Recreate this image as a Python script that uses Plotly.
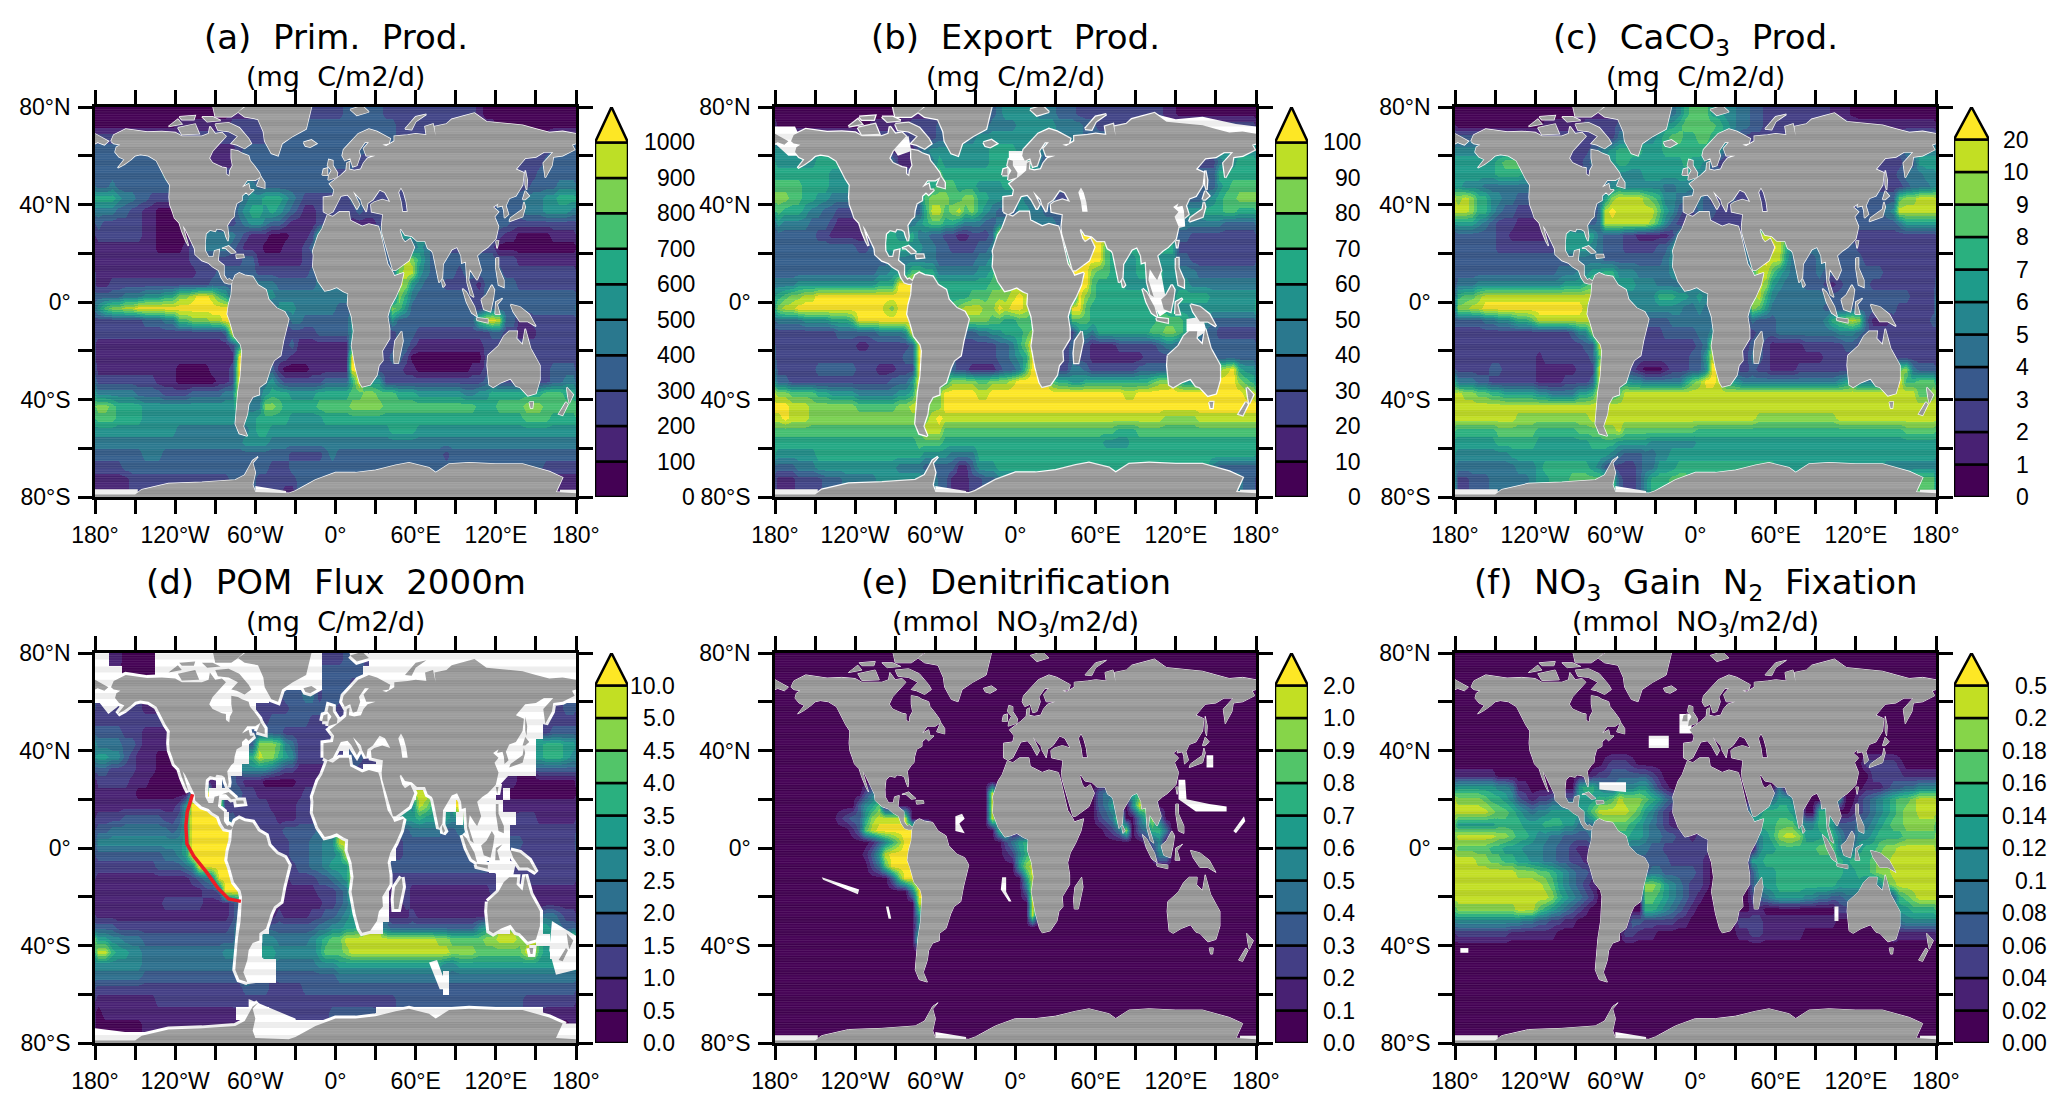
import numpy as np
import plotly.graph_objects as go

# grid: 5 degree cells, rows run north to south, 6 groups of 60 degrees of longitude
# each char is the colour level of the cell, "." = no data, short rows repeat the last char
LONS = [-182.5 + 5 * i for i in range(74)]
LATS = [82.5 - 5 * i for i in range(34)]

PRIM_PROD = [
    "000000000000 000000001111 111112222222 233333322222 222222222100 000000000000",
    "000000000000 111111112222 222222333333 333333333222 222222221111 000000000000",
    "222222222222 222222222222 222333333333 333333333222 222222222222 111111112222",
    "333333333333 222221111233 333333333333 333333222222 222222222222 222222223333",
    "333333333333 333321111233 333333333333 333211111222 222222222222 222222233333",
    "333333333344 443333222333 333333333332 222222222222 222222222222 222222333333",
    "334333333333 444222222344 333333333333 333333222222 222222222222 222223333444",
    "666544332222 234422222345 566654322222 223322222222 222222222222 333344455666",
    "444332211000 113333222456 656543211222 222322222222 222222222222 333344455554",
    "322222211000 001344222345 543321111222 221111222222 222222222222 332222222222",
    "222222211000 001144444321 1100011126aa 444444444555 554222222222 211000001111",
    "111111111000 012244443211 1000111239aa aaa222233333 543222222222 000000000000",
    "111111111111 112222222233 111111122399 222222233798 643333333333 222111111111",
    "111111111111 111222333333 222222223455 222222223899 543333233333 322222222222",
    "112222222222 222223333355 444333333444 442222222985 433322222133 333222222222",
    "333344455566 889aa9763222 555444444444 444222222864 333333332233 333333333333",
    "578899aaaaaa aaaaaaaaa222 222555444444 333222228753 333333332233 333333333333",
    "222222233344 7788899aa222 222224433333 335222225333 33333333379a 933112222222",
    "222222222222 22222223aaa2 222222222333 335222222333 222222222223 322111222222",
    "111111111111 1111111125aa 222223111111 116222222332 111111111122 222222222222",
    "111111111111 111111111aa2 222221111111 11aa22223320 000000000022 222222222222",
    "111111111111 000001112aa2 333100001111 11aa52222211 000000001122 222222223333",
    "222222222111 000000112aa3 445322222233 336a55522222 222222222233 222222223344",
    "444444333322 223333344aa3 456665555666 667788777666 555555544556 666666677766",
    "887666655555 555555555844 488766666777 778888877777 777777777666 777788877777",
    "777666655555 555555555455 666665555566 666666666666 666666666666 666677776666",
    "555555555555 444444444445 665555555555 555555556666 555555555555 555555555555",
    "444444444444 444444444455 554444444444 444444444444 444444444444 444444444444",
    "333333344433 333333333333 333332222234 333333333333 333323333333 333333333333",
    "222233333333 333333333333 332223333333 333333333333 333333333333 333333322222",
    "111112222222 222222223333 222222333333 333333333333 333333333333 333222211111",
    "111112222222 222222223333 222211333333 333333333333 333333333333 333222211111",
]

EXPORT_PROD = [
    "000000000000 000000001111 222222223455 555444333222 222222222211 000000000000",
    "000000000000 001111122222 333333334444 555555444433 222222222222 222222222222",
    "222222222222 222222222222 334444555555 555555444433 333333333333 444444444555",
    "555555555555 444221111345 555555556666 555533333333 333333333333 333333555555",
    "555555666666 666644111344 655555556666 665422222222 222222222222 222222455666",
    "666666665555 555544222455 766666666666 666533333333 333333333333 333333666666",
    "777766665555 554333333566 777666555566 654333333333 333333333333 333333567777",
    "887766554444 555443333478 887788665544 544333222222 222222222222 333345677888",
    "766654433222 222355333369 978978654332 554433322222 222222222222 555566677666",
    "544443332111 111566444567 766544433444 544444333222 222222222222 444444433333",
    "333333221111 112666556443 322112223a99 222222266aaa aa6555555555 332222222222",
    "333333333333 223366665544 3322223349aa aa2222266aaa a76666666666 222222222222",
    "333333333333 333334444444 3333334457aa aa2222266aaa a76655665555 332222222222",
    "333333333333 333445557766 4444445569aa a222222aaaa8 776655666655 444333333333",
    "444555555555 555666aaaa77 666666667788 886222222aa7 666655556655 554444444444",
    "678899aaaaaa aaaaaaaaa655 776667778889 a96222222a87 666666666655 666665555555",
    "899aaaaaaaaa aaaa98aaaa55 667899988a9a a9822222aa76 666666666665 555555555555",
    "444455556667 aaaaaaaaaa55 556888887766 776222227776 666666666777 765553333333",
    "222222222333 33344445aa55 222333445566 678222222554 666666667788 765433222222",
    "222222222222 112222223aa5 443222222334 68aa22223321 111222222344 333333333333",
    "222222222222 222222233aa5 443222222334 56aa22223221 111111122223 322333333333",
    "222222333333 222111222aa5 553221111233 47aa22224432 222222333333 33333389a655",
    "332222222222 222223335aa4 668888778889 aaaaa7665566 666666667889 655555aaa876",
    "887777665555 444444556aa7 8aaaaa99aaaa aaaaaaaaaaaa aaaa99aaaaaa aaaaaaaaaa99",
    "aa9998888888 777777889988 8aaaaaaaaaaa aaaaaaaaaaaa aaaaaaaaaaaa aaaaaaaaaaaa",
    "9a9998888888 888888888889 a99999999999 999999999999 999999999988 888999999999",
    "777777777777 777777777799 977777777777 777777777777 777666777777 777777777777",
    "666666666666 666666666777 766666666666 666666666666 655556666666 666666666666",
    "555555666666 666666666655 554444666666 666666666666 666666666666 666666666666",
    "333444555555 555555444433 333113555666 666666666666 666666666666 666664333333",
    "111222233344 444555555555 331112233444 555555555555 555555555555 333333444433",
    "111222233344 444555555555 331112233444 555555555555 555555555555 333333444433",
]

CACO3_PROD = [
    "000000000000 000000111111 222222334578 886655443322 222222221110 000000000000",
    "000000000000 011111122222 333333566788 888765443322 222222222222 111111111111",
    "333333222222 222222222222 444455678877 887765322222 222222222222 222222233333",
    "555555555566 555222223456 777766677777 776632222222 222222222222 222222344555",
    "666666788888 774222234566 776666666676 653211111111 222222222222 222222233666",
    "666666777766 766543222344 555566666665 543322222222 222222222222 222222344455",
    "655544444444 544333222345 655555544555 542222222222 222222222222 222222234445",
    "9a9775544333 444443222469 aaaa98755443 432223222222 222222222222 333333899aaa",
    "aa9775433222 2224442224ab aaaaaa865322 433222222222 222222222222 333345aaaaaa",
    "666543222111 1114443334aa aaaaa9753211 432222222222 222222222222 333333466666",
    "333333221111 112466666433 32211111259a 222222244aaa a95322222222 222222222222",
    "333333222222 222366665433 322222335abb 222222244aab a75444433333 222222222222",
    "333333333333 333333444433 3333333458bb 222222244aba a64433443333 322222222222",
    "333333333333 333444556677 555444445677 222222227aa8 654433433333 333322222222",
    "444555555555 555566678887 666555444444 443222222a96 544433321233 332222222222",
    "7889aaaaaaaa aaaaaaaaa755 555555777665 654222229a75 444444443333 333333332222",
    "99aabbbbbbbb bbbbbbba7444 444555555544 543222229864 444444433333 333333222222",
    "333344556778 aaaaaaaaa544 443333334444 444222224333 44444445789a 931112222223",
    "222222222222 222223559a33 332222233333 445222222333 444444444555 432222222222",
    "222222222222 222222233aa3 322222222222 34aa22223321 111122222233 222222222222",
    "222222222222 1222222238a3 322222222223 36aa22224321 111111122222 222222222222",
    "222223322222 111111222aa3 322100012223 35ba22223221 111222222222 222224894333",
    "444332222222 111122223aa4 665544444468 9bba66544444 444444444567 44444ab77888",
    "a99887766666 554444667aa7 8aaaaaaaaaaa aaaaaaaaaaaa aaaaaaaaaaaa aaaaaaaaa889",
    "aaaaaaaaaaaa aaaaaaaaaaaa aaaaaaaaaaaa aaaaaaaaaaaa aaaaaaaaaaaa aaaaaaaaaaaa",
    "aaaaaaaaa999 99999999aaaa aaaaaaaaaaaa aaaaaaaaa999 999999999aaa aaaaaaaaaaaa",
    "777777888888 777777888899 a88888888888 777777777777 777777777777 777777788888",
    "666666777777 666666667777 666665555555 666666666666 666666666666 666666666666",
    "555555556666 666666666665 433344556666 666666666666 666666666666 666666666666",
    "444444444555 677777776532 222344666777 777777777777 666666666666 666655555555",
    "223334444445 667778888888 322357778887 777777777777 777777777777 444444778888",
    "223334444445 667778888888 322357778887 777777777777 777777777777 444444778888",
]

POM_FLUX = [
    "..1100000... ............ ..........22 23332....... ............ ............",
    "....00000... ............ ..........33 3333........ ............ ............",
    "............ ............ ..........33 332......... ............ ............",
    "............ ............ ..2233344233 333......... ............ ............",
    "222222211111 1........... 222223333333 22.......... ............ ........2233",
    "222222222222 211........2 223333332222 2........... ............ .......22222",
    "333322211111 111........3 333322222222 ............ ............ .......23333",
    "444433211111 111000.....3 999854222222 ..3322...... ............ ......677766",
    "665532111000 000000.....7 a99765222222 2.3322...... ............ ......677765",
    "332222111000 000000....55 554322111112 2.32........ ............ ......333333",
    "222221110000 000011.33211 100000111222 ............ ............ 111000000000",
    "111111000000 005bb...3322 111111122334 4........... aa9....bbb.. 1.0000000000",
    "111111111111 25bbbbb22222 221111222334 4.........65 a975..bbbb.. .11111111111",
    "222233333322 36bbbbb.3222 222111222344 4........666 766665.8bb.. ...222111111",
    "334444444443 46bbbbbb.222 222233333444 aa.......334 444433444... ..2222222222",
    "555555555555 56bbbbbbbb.. ..2223334455 aaa......233 333333344... ..3322222222",
    "333333333344 56bbbbbbbb.. ..2223334455 6aa......233 333333333... ..2222222222",
    "222222222333 345bbbbbb... ..2222334456 66a.....3333 33333333333. ..2222222222",
    "111111111111 112345bbbb.. ..1112222334 56a.....2222 222222222222 ..2222222222",
    "111111111111 1111223bbb.. ...111111222 34a.....1121 111111111112 ..1111111111",
    "111111111122 22221111249. ..1111111122 346.....1121 111111111111 ..1111111111",
    "111111111111 1111111124a. .11211112233 456.....1112 111111111111 ...111.44322",
    "333222222222 2222222235a. ..3333333445 5667...43333 333333333567 ..9.4..65433",
    "665544433333 3333333335a. .55444445678 8aaaaaaaaaaa aaa998888899 aaa99a..6.5a",
    "aa7665544444 44444445558. .66555555688 89aaaaaaaaaa aaaaa9999888 8888aa76.555",
    "555555544444 44444444455. ...444444555 666666666666 666655666666 666666666555",
    "444444433333 33333333336. ...333333333 444444444444 4444.4444444 444444444444",
    "222222222222 222222222233 332222233333 333333333333 3333.3333333 333333333333",
    "111111111222 222222222222 222222222222 222222222333 333333333333 333322222222",
    "011111111111 111111111... ..2222222223 333333...... ............ .......11111",
    "000000011111 1111111111.. ...22....... ............ ............ .........001",
    "............ ............ ............ ............ ............ ............",
]

DENITRIF = [
    "0", "0", "0", "0", "0", "0", "0", "0", "0", "0", "0",
    "000000000000 024500000000 00000000a000 000000000000 344006700000 0",
    "000000000000 356800000000 00000000a000 000000000000 346005a95000 0",
    "000000000123 369aaaaa0000 00000000a600 000000000000 234a00479400 0",
    "000000000001 38abbbbbbbb0 000000000790 000000000000 012490347740 0",
    "000000000000 00135 79bbbb0 000000000024 677000000000 000000013500 0",
    "000000000000 0136abbbbb00 000000000012 578000000000 000000001550 0",
    "000000000000 00248bbbbbb0 000000000000 69a000000000 0",
    "000000000000 0000038bbb00 000000000000 06aa00000000 0",
    "000000000000 000000005bb0 000000000000 03aa00000000 0",
    "000000000000 000000000aa0 000000000000 00aa00000000 0",
    "000000000000 000000000600 000000000000 00a000000000 0",
    "000000000000 000000000500 0",
    "000000000000 000000000800 0",
    "0", "0", "0", "0", "0", "0", "0", "0",
]

N2_FIX = [
    "0", "0", "0", "0", "0", "0", "0", "0",
    "000000000000 000000000012 221000000000 000000000000 000000000000 022222100000",
    "111111000000 000000001223 333332100000 000000000000 000000000000 002222211111",
    "666666554110 000100677543 555664210000 000000000000 400000000000 011123344555",
    "999987765321 223333666778 a99987643100 000000003444 665400005500 234567889aaa",
    "aaaaa9887654 556666668aaa aa9865321000 000000035677 776400776001 234567899aaa",
    "666666777766 677766444788 887654321100 000000036777 888655776333 445678899999",
    "aaaaaa998776 554433334567 776654433221 221000000567 9aa966677533 556777788888",
    "888887766655 544332112233 554443322222 221000000566 777777888544 677899aaaaaa",
    "aaa998877665 544332211000 333333332222 210000006677 777777777767 77899aaaaaaa",
    "aaaaaaaaa999 887654332000 222334433333 210000003666 777777777766 77899aaaaaaa",
    "aaaaaaaaaaaa a98654321000 000099865432 210000003566 777777777666 654589aaaaaa",
    "aaaaaaaaaaaa aa9765432000 000088765432 100000002345 666655443344 440003789aaa",
    "999999999aaa 876543210000 000077654321 000000001100 000000000222 222235667777",
    "555555555544 332211000000 003322222110 000000222211 111111111000 000003455555",
    "222222221111 111000000000 022111000000 000000112211 111100000000 000002111111",
    "0", "0", "0", "0", "0", "0", "0", "0",
]

# coastlines as (lon, lat)
N_AMERICA = [(-168,66),(-166,68.5),(-157,71),(-150,70.5),(-141,69.7),(-130,70),(-120,69.5),(-115,68),(-108,68),
    (-100,68),(-95,69),(-94,72),(-90,69),(-85,69.5),(-82,68),(-87,65),(-92,62),(-94.5,59),(-92,57),(-85,55.3),
    (-82,55),(-82,52.5),(-79.5,51.5),(-79,54),(-77,56),(-78,59),(-78,62.5),(-73,62),(-70,61),(-65,60),(-64,58),
    (-61,56),(-57,53),(-56,51.5),(-60,50),(-66,50),(-70,47),(-65,48.5),(-64,46),(-61,46),(-65,44),(-67,45),
    (-70,43.5),(-70,41.7),(-74,40.5),(-75.5,37.5),(-76,35),(-78,34),(-81,31.5),(-80,27),(-80.5,25),(-82,27),
    (-83,29),(-85,29.7),(-89,30),(-90,29),(-94,29.5),(-97,28),(-97.7,24),(-97.5,21),(-95,18.5),(-91.5,18.5),
    (-90.5,21),(-87,21.5),(-88,17),(-83.5,15),(-83.5,11),(-81,9),(-79.5,9.5),(-77,8.5),(-78,7.5),(-80,7.5),
    (-83,8),(-85.5,10),(-87.5,13),(-92,14.5),(-95,16),(-100,17),(-105,19.5),(-105.5,22),(-109,26),(-112.5,30),
    (-114.5,31.5),(-112,27),(-110,23),(-112,25),(-115,29),(-117,32.5),(-120.5,34.5),(-122,37),(-124,40),
    (-124.5,43),(-124,48),(-127,50.5),(-130,54),(-134,58),(-140,60),(-146,60.5),(-150,60),(-153,58.5),
    (-158,56.5),(-163,55),(-158,58.5),(-162,59.5),(-165,61.5),(-164,63.5),(-161,64.5),(-166,65)]
S_AMERICA = [(-77,8.5),(-75,11),(-72,12),(-68,11),(-62,10.5),(-58,7),(-52,5),(-50,1),(-44,-2.5),(-38,-4),(-35,-7),
    (-37,-11),(-39,-16),(-41,-22),(-46,-24),(-48.5,-27),(-52,-33),(-57,-35),(-57,-38),(-62,-39),(-65,-42),
    (-66,-46),(-69,-51),(-66,-55),(-72,-54),(-75,-50),(-73.5,-42),(-73,-37),(-71,-30),(-70,-20),(-71,-17.5),
    (-76,-14),(-79,-8),(-81,-5),(-80,-1),(-78,3),(-77.5,7)]
AFRICA = [(-6,35.8),(-2,35),(3,37),(10,37),(11,33.5),(15,32.5),(20,31),(25,32),(32,31),(33.5,28.5),(35.5,24),(37,20),
    (39,15.5),(43,12),(44,10.7),(51,12),(49,7),(45,2),(41,-2),(39,-6),(40.5,-11),(40.5,-15),(35,-20),(35.5,-24),
    (32.5,-26),(31,-30),(26,-34),(20,-34.8),(18,-33),(15,-27),(12,-18),(13.5,-12),(12,-6),(9,-1),(9.5,3.5),
    (6,4.3),(1,6),(-4,5),(-8,4.5),(-13,8.5),(-17,14.5),(-16.5,19),(-17,21),(-13,27.5),(-10,30)]
EURASIA = [(-9,37),(-9,43),(-2,43.5),(-1,46),(-4.5,48.5),(2,51),(4,52),(8,54),(8.5,57),(10.5,57.5),(10,54.5),(14,54),
    (19,54.5),(21,57),(24,59),(30,60),(23,60),(21,63),(25,65.5),(22,65.5),(17.5,62),(18.5,60),(16,56),(13,55.5),
    (11,59),(7,58),(5,60),(6,62.5),(12,66),(17,69),(25,71),(31,70),(41,67),(40,65),(35,64.5),(38,64),(44,66),
    (44,68),(54,68.5),(60,69),(68,68.5),(67,72),(73,73),(75,68),(74,72),(83,73),(87,75),(104,77.5),(113,74),
    (128,73),(140,72.5),(150,71),(160,69.5),(170,70),(180,69),(180,65),(177,64.5),(179,62.5),(170,60),(163,59.5),
    (162,56),(157,51),(155.5,57),(163,61.5),(156,61.5),(150,59.5),(142,59),(135,54.5),(141,53),(140,48),(135,43.5),
    (130,42.5),(127.5,39.5),(129.5,36),(126.5,34.5),(126,37.5),(125,39.5),(121,39),(122,40.5),(118,39),(122,37),
    (119,35),(122,31),(120,26),(114,22.5),(110,21),(106,19),(109,13),(106,9),(104,10.5),(100.5,13.5),(99.5,9),
    (103.5,2),(101,3),(98.5,8),(97.5,16.5),(94.5,16),(94,19),(91,22.5),(87,21.5),(80.5,15.5),(80,10),(77.5,8),
    (73,20),(72,21),(69,22),(67,25),(61,25),(57,27),(52,27.5),(49,30),
    (50,37),(54,37),(53,41),(51,45),(49,47),(47,45),(49,41),(50,37),(49,30),
    (48,29.5),(50,26),(52,24.5),(56,26),(59,22.5),(55,17),(45,13),(43,13),(39,21),(35,28),(34.5,31),(35.5,36),
    (31,36.5),(27,37),(26.5,40),(29,41),(35,42),(41,41),(37,45),(33,46),(28,42),(24,40.5),(23,37),(20,40),(19,42),
    (13,45.5),(18,40),(16,38),(12,42),(9,44),(4,43.5),(0,39),(-2,37),(-5.5,36)]
ASIA_WRAP = [(-180,69),(-175,67.5),(-170,66),(-173,64.5),(-178,65.5),(-180,65)]
GREENLAND = [(-73,78),(-68,80.5),(-60,82),(-30,83.5),(-18,80),(-20,75),(-22,71),(-32,68),(-40,65),(-43,60),(-48,61),
    (-53,66),(-54,70),(-58,75),(-68,76)]
ANTARCTICA = [(-180,-79),(-150,-79),(-145,-77),(-125,-74.5),(-100,-74),(-75,-73),(-68,-71),(-62,-65),(-58,-63.5),
    (-62,-66),(-60,-70),(-62,-75),(-60,-78),(-35,-78.5),(-30,-77.5),(-15,-73),(0,-70),(15,-70),(30,-69),(45,-67),
    (55,-66),(70,-68),(75,-70),(85,-66.5),(100,-66),(120,-66.5),(140,-66.5),(160,-69.5),(170,-72),(165,-78),
    (180,-78.5),(180,-81),(-180,-81)]
AUSTRALIA = [(114,-22),(122,-18),(126,-14),(130,-12),(136,-12),(135.5,-15),(140,-17.5),(142,-11),(146,-19),(153,-26),
    (153,-32),(150,-37.5),(144,-38.5),(138,-35),(135,-34.5),(131,-31.5),(124,-33),(118,-35),(115,-34),(113.5,-26)]
ISLANDS = [
    [(-90,73),(-80,73.5),(-72,71.5),(-65,67),(-63,65),(-68,63),(-74,64.5),(-78,65),(-73,68),(-80,70),(-88,70.5)],
    [(-118,71.5),(-105,73),(-102,69),(-115,68.7)],
    [(-125,72),(-118,75),(-115,73)],
    [(-90,76),(-78,76),(-65,81),(-75,83),(-92,81)],
    [(-100,76),(-92,76),(-86,74.5),(-96,74)],
    [(-117,76),(-105,76.5),(-106,74.8),(-115,74.8)],
    [(-59,47.7),(-53,46.8),(-53,49),(-56,51.5)],
    [(-85,22),(-80,23),(-74.5,20.3),(-78,20),(-82,22)],
    [(-74.5,19.5),(-69,19.5),(-68.5,18.3),(-74,18)],
    [(-24,65.5),(-18,66.5),(-14,65),(-19,63.5),(-22.5,64)],
    [(-5.5,50),(1,51.2),(1.5,53),(-2,56),(-2,58),(-5,58.5),(-6,56),(-3,54),(-5,52)],
    [(-10,52),(-6,52),(-6,55),(-9,54.5)],
    [(11,79),(20,80.5),(25,78),(16,76.5)],
    [(52,71),(57,70.7),(60,74),(68,77),(60,76)],
    [(49.5,-12),(50.5,-16),(47,-25),(44,-25),(43.5,-21),(44.5,-16)],
    [(95,5.5),(98,4),(104,-2),(106,-6),(102,-4.5),(98,0)],
    [(105.5,-6.5),(114,-7),(114,-8.5),(106,-7.5)],
    [(109,1),(113,3),(117,7),(119,5),(118,1),(116,-4),(111,-3)],
    [(119.5,-5),(120,0),(125,1.5),(121,-1),(123,-5)],
    [(120,18),(122,18),(122,14),(126,9),(126,6),(122,7),(120,14)],
    [(131,-1),(138,-2),(145,-5),(150,-10),(144,-8),(138,-8),(133,-4)],
    [(145,-41),(148,-41),(147.5,-43.5),(146,-43.5)],
    [(173,-35),(178,-38),(175,-41.5),(174,-39)],
    [(172.5,-41),(174,-42),(170,-46.5),(167,-46)],
    [(130,33),(135,34),(140,35),(142,39),(141,41),(140,38),(136,36.5),(131,34.5)],
    [(140,42),(142,45.5),(145,43.5),(142,42)],
    [(142,54),(143.5,50),(143,46),(142,48)],
    [(120,25),(122,25),(121,22)],
    [(80,9.5),(82,7),(80.5,6),(79.7,8)],
]
LAND = [N_AMERICA, S_AMERICA, AFRICA, EURASIA, ASIA_WRAP, GREENLAND, ANTARCTICA, AUSTRALIA] + ISLANDS

# no data patches (white in the picture)
SHELF_GAPS = [[(-180,-76.8),(-148,-76.8),(-148,-80),(-180,-80)], [(-60,-75.5),(-37,-77.5),(-37,-80),(-60,-80)],
    [(168,-77),(180,-77),(180,-80),(168,-80)]]
GAPS_B = SHELF_GAPS + [
    [(-180,72),(-165,72),(-160,66),(-163,60),(-170,60),(-180,65)],
    [(105,77),(120,75),(140,76),(165,73),(180,72),(180,68),(100,70)],
    [(-5,62),(8,62),(10,53),(2,50),(-5,50)],
    [(99,15),(108,15),(112,3),(116,-3),(108,-6),(100,2)],
    [(128,-7),(140,-6),(143,-12),(135,-15),(128,-12)],
    [(46,47),(55,47),(55,37),(46,37)],
    [(118,40),(126,40),(127,31),(120,30)],
    [(-95,66),(-80,68),(-78,62),(-88,60)],
]
GAPS_D = [
    [(-180,72),(-165,72),(-160,66),(-163,58),(-170,55),(-180,62)],
    [(-120,80),(-60,80),(-60,62),(-95,50),(-100,70)],
    [(97,22),(112,22),(112,5),(118,-4),(106,-8),(100,0),(97,8)],
    [(118,-3),(135,-6),(132,-14),(118,-10)],
    [(118,42),(128,42),(130,30),(120,24),(112,20),(108,15),(110,25)],
    [(140,60),(156,60),(148,45),(135,40),(135,52)],
    [(70,-47),(76,-46),(84,-58),(78,-58)],
    [(-68,-45),(-54,-45),(-54,-55),(-68,-56)],
    [(-65,-62),(-30,-70),(-25,-80),(-65,-80)],
    [(160,-72),(180,-72),(180,-80),(160,-80)],
    [(-180,-74),(-150,-76),(-150,-80),(-180,-80)],
    [(162,-30),(180,-36),(180,-50),(165,-52),(160,-42)],
    [(46,47),(55,47),(55,37),(46,37)],
    [(30,45),(40,46),(40,40),(30,40)],
]
GAPS_E = SHELF_GAPS + [
    [(-45,13),(-40,14),(-38,12),(-42,10),(-38,6),(-45,7)],
    [(-10,-12),(-7,-12),(-7,-18),(-3,-22),(-5,-22),(-11,-17)],
    [(122,28),(127,28),(128,20),(145,18),(158,17),(158,15),(135,15),(122,20)],
    [(143,38),(148,38),(148,33),(143,33)],
    [(163,7),(171,13),(172,11),(165,6)],
    [(-145,-12),(-144,-13),(-118,-19),(-117,-17)],
    [(-97,-24),(-95,-24),(-93,-29),(-95,-29)],
]
GAPS_F = SHELF_GAPS + [
    [(-72,27),(-52,27),(-52,23),(-72,24)],
    [(-12,55),(-3,55),(-3,47),(-12,47)],
    [(-35,46),(-20,46),(-20,41),(-35,41)],
    [(104,-24),(107,-24),(107,-30),(104,-30)],
    [(-176,-41),(-170,-41),(-170,-43),(-176,-43)],
]

COLORS_12 = ["#440154", "#482173", "#433e85", "#38598c", "#2d708e", "#25858e", "#1e9b8a", "#2ab07f", "#52c569", "#86d549", "#c2df23", "#fde725"]
COLORS_11 = ["#440154", "#482475", "#414487", "#355f8d", "#2a788e", "#21918c", "#22a884", "#44bf70", "#7ad151", "#bddf26", "#fde725"]

TICKS_A = ["0", "100", "200", "300", "400", "500", "600", "700", "800", "900", "1000"]
TICKS_B = ["0", "10", "20", "30", "40", "50", "60", "70", "80", "90", "100"]
TICKS_C = ["0", "1", "2", "3", "4", "5", "6", "7", "8", "9", "10", "20"]
TICKS_D = ["0.0", "0.5", "1.0", "1.5", "2.0", "2.5", "3.0", "3.5", "4.0", "4.5", "5.0", "10.0"]
TICKS_E = ["0.0", "0.1", "0.2", "0.3", "0.4", "0.5", "0.6", "0.7", "0.8", "0.9", "1.0", "2.0"]
TICKS_F = ["0.00", "0.02", "0.04", "0.06", "0.08", "0.1", "0.12", "0.14", "0.16", "0.18", "0.2", "0.5"]

RED_LINE_LON = [-107, -111, -112, -111.2, -106, -96.4, -88, -80, -70.8]
RED_LINE_LAT = [22, 14.7, 9, 1.7, -3.4, -10, -16.5, -20.9, -21.9]

XTICK_VALS = [-180, -120, -60, 0, 60, 120, 180]
XTICK_TEXT = ["180°", "120°W", "60°W", "0°", "60°E", "120°E", "180°"]
XTICK_MINOR = [-150, -90, -30, 30, 90, 150]
YTICK_VALS = [-80, -40, 0, 40, 80]
YTICK_TEXT = ["80°S", "40°S", "0°", "40°N", "80°N"]
YTICK_MINOR = [-60, -20, 20, 60]

W, H = 2067, 1105
ROW_TOP = [107, 653]
ROW_BOT = [497, 1043]
COL_LEFT = [95, 775, 1455]
COL_RIGHT = [576, 1256, 1936]
BAR_LEFT = [595, 1275, 1954]
BAR_RIGHT = [628, 1308, 1989]

PANELS = [
    dict(title="(a)  Prim.  Prod.", unit="(mg  C/m2/d)", rows=PRIM_PROD, ticks=TICKS_A, gaps=SHELF_GAPS, halo=1.5, label_right=697),
    dict(title="(b)  Export  Prod.", unit="(mg  C/m2/d)", rows=EXPORT_PROD, ticks=TICKS_B, gaps=GAPS_B, halo=2.5, label_right=1363),
    dict(title="(c)  CaCO<sub>3</sub>  Prod.", unit="(mg  C/m2/d)", rows=CACO3_PROD, ticks=TICKS_C, gaps=SHELF_GAPS, halo=1.5, label_right=2031),
    dict(title="(d)  POM  Flux  2000m", unit="(mg  C/m2/d)", rows=POM_FLUX, ticks=TICKS_D, gaps=GAPS_D, halo=6, label_right=677),
    dict(title="(e)  Denitrification", unit="(mmol  NO<sub>3</sub>/m2/d)", rows=DENITRIF, ticks=TICKS_E, gaps=GAPS_E, halo=1, label_right=1357),
    dict(title="(f)  NO<sub>3</sub>  Gain  N<sub>2</sub>  Fixation", unit="(mmol  NO<sub>3</sub>/m2/d)", rows=N2_FIX, ticks=TICKS_F, gaps=GAPS_F, halo=1, label_right=2049),
]


def read_grid(rows):
    # the outer rows and columns repeat the edge so the smoothing reaches the frame
    grid = []
    for row in rows[::-1]:
        row = row.replace(" ", "")
        row = row.ljust(72, row[-1])[:72]
        row = row[-1] + row + row[0]
        grid.append([np.nan if c == "." else int(c, 16) + 0.5 for c in row])
    return [grid[0]] + grid + [grid[-1]]


def step_scale(colors):
    n = len(colors)
    scale = []
    for k, c in enumerate(colors):
        scale.append([k / n, c])
        scale.append([(k + 1) / n, c])
    return scale


def outline(polys):
    xs, ys = [], []
    for poly in polys:
        xs += [p[0] for p in poly] + [poly[0][0], None]
        ys += [p[1] for p in poly] + [poly[0][1], None]
    return xs, ys


fig = go.Figure()
annotations = []
land_x, land_y = outline(LAND)
stripe_lats = np.arange(-80, 80, 1.0)
band_lats = np.arange(-78, 80, 5.4)
tick_font = dict(family="Liberation Sans", size=23, color="black")
axis_style = dict(ticks="outside", ticklen=14, tickwidth=2.5, tickcolor="black", showline=True, linecolor="black",
                  linewidth=2.5, mirror="ticks", showgrid=False, zeroline=False, automargin=False, tickfont=tick_font)

for i, p in enumerate(PANELS):
    col, row = i % 3, i // 3
    xa, ya = f"x{2 * i + 1}", f"y{2 * i + 1}"
    xb, yb = f"x{2 * i + 2}", f"y{2 * i + 2}"
    colors = COLORS_11 if len(p["ticks"]) == 11 else COLORS_12
    n = len(p["ticks"]) - 1

    fig.add_trace(go.Heatmap(x=LONS, y=LATS[::-1], z=read_grid(p["rows"]), zmin=0, zmax=len(colors),
                             colorscale=step_scale(colors), zsmooth="best", showscale=False,
                             hoverinfo="skip", xaxis=xa, yaxis=ya))
    gap_x, gap_y = outline(p["gaps"])
    fig.add_trace(go.Scatter(x=gap_x, y=gap_y, mode="lines", fill="toself", fillcolor="white",
                             line=dict(width=0, color="white"), hoverinfo="skip", xaxis=xa, yaxis=ya))
    fig.add_trace(go.Scatter(x=land_x, y=land_y, mode="lines", line=dict(color="white", width=p["halo"]),
                             hoverinfo="skip", xaxis=xa, yaxis=ya))
    fig.add_trace(go.Scatter(x=land_x, y=land_y, mode="lines", fill="toself", fillcolor="#9c9c9c",
                             line=dict(width=0, color="#9c9c9c"), hoverinfo="skip", xaxis=xa, yaxis=ya))

    # the picture has faint horizontal scan lines and wider bands on the land
    sx, sy = [], []
    for lat in band_lats:
        sx += [-180, 180, None]
        sy += [lat, lat, None]
    fig.add_trace(go.Scatter(x=sx, y=sy, mode="lines", line=dict(color="rgba(0,0,0,0.07)", width=6),
                             hoverinfo="skip", xaxis=xa, yaxis=ya))
    sx, sy = [], []
    for lat in stripe_lats:
        sx += [-180, 180, None]
        sy += [lat, lat, None]
    fig.add_trace(go.Scatter(x=sx, y=sy, mode="lines", line=dict(color="rgba(255,255,255,0.10)", width=1),
                             hoverinfo="skip", xaxis=xa, yaxis=ya))

    if i == 3:
        fig.add_trace(go.Scatter(x=RED_LINE_LON, y=RED_LINE_LAT, mode="lines", line=dict(color="#ee1c25", width=3.5),
                                 hoverinfo="skip", xaxis=xa, yaxis=ya))

    # colour bar: one stacked bar per level, the top colour is the arrow
    fig.add_trace(go.Bar(x=[0] * n, y=[1] * n, base=list(range(n)), width=1, marker=dict(color=colors[:n], line=dict(color="black", width=2.5)),
                         hoverinfo="skip", cliponaxis=False, xaxis=xb, yaxis=yb))
    fig.add_trace(go.Scatter(x=[-0.5, 0, 0.5, -0.5], y=[n, n + 1, n, n], mode="lines", fill="toself", fillcolor=colors[-1],
                             line=dict(color="black", width=2.5), hoverinfo="skip", cliponaxis=False, xaxis=xb, yaxis=yb))

    dom_x = [COL_LEFT[col] / W, COL_RIGHT[col] / W]
    dom_y = [1 - ROW_BOT[row] / H, 1 - ROW_TOP[row] / H]
    minor_style = dict(ticks="outside", ticklen=14, tickwidth=2.5, tickcolor="black", showgrid=False)
    fig.update_layout({
        f"xaxis{2 * i + 1}": dict(domain=dom_x, range=[-180, 180], tickvals=XTICK_VALS, ticktext=XTICK_TEXT, anchor=ya,
                                  tickangle=0, ticklabelstandoff=2, minor=dict(tickvals=XTICK_MINOR, **minor_style), **axis_style),
        f"yaxis{2 * i + 1}": dict(domain=dom_y, range=[-80, 80], tickvals=YTICK_VALS, ticktext=YTICK_TEXT, anchor=xa,
                                  ticklabelstandoff=3, minor=dict(tickvals=YTICK_MINOR, **minor_style), **axis_style),
        f"xaxis{2 * i + 2}": dict(domain=[BAR_LEFT[col] / W, BAR_RIGHT[col] / W], range=[-0.5, 0.5], visible=False, anchor=yb, automargin=False),
        f"yaxis{2 * i + 2}": dict(domain=dom_y, range=[0, n + 1], visible=False, anchor=xb, automargin=False),
    })

    center = (COL_LEFT[col] + COL_RIGHT[col]) / 2 / W
    title_top = [15, 560][row]
    unit_top = [59, 604][row]
    annotations.append(dict(text=p["title"], x=center, y=1 - title_top / H, xref="paper", yref="paper", xanchor="center",
                            yanchor="top", showarrow=False, font=dict(family="DejaVu Sans", size=34, color="black")))
    annotations.append(dict(text=p["unit"], x=center, y=1 - unit_top / H, xref="paper", yref="paper", xanchor="center",
                            yanchor="top", showarrow=False, font=dict(family="DejaVu Sans", size=27, color="black")))
    for k, label in enumerate(p["ticks"]):
        annotations.append(dict(text=label, x=p["label_right"] / W, y=k, xref="paper", yref=yb, xanchor="right", yanchor="middle",
                                showarrow=False, font=tick_font))

fig.update_layout(width=W, height=H, autosize=False, margin=dict(l=0, r=0, t=0, b=0), paper_bgcolor="white",
                  plot_bgcolor="white", showlegend=False, annotations=annotations, barmode="overlay")
fig.write_html("out.html", config={"displayModeBar": False}, post_script="document.body.style.margin='0';")
